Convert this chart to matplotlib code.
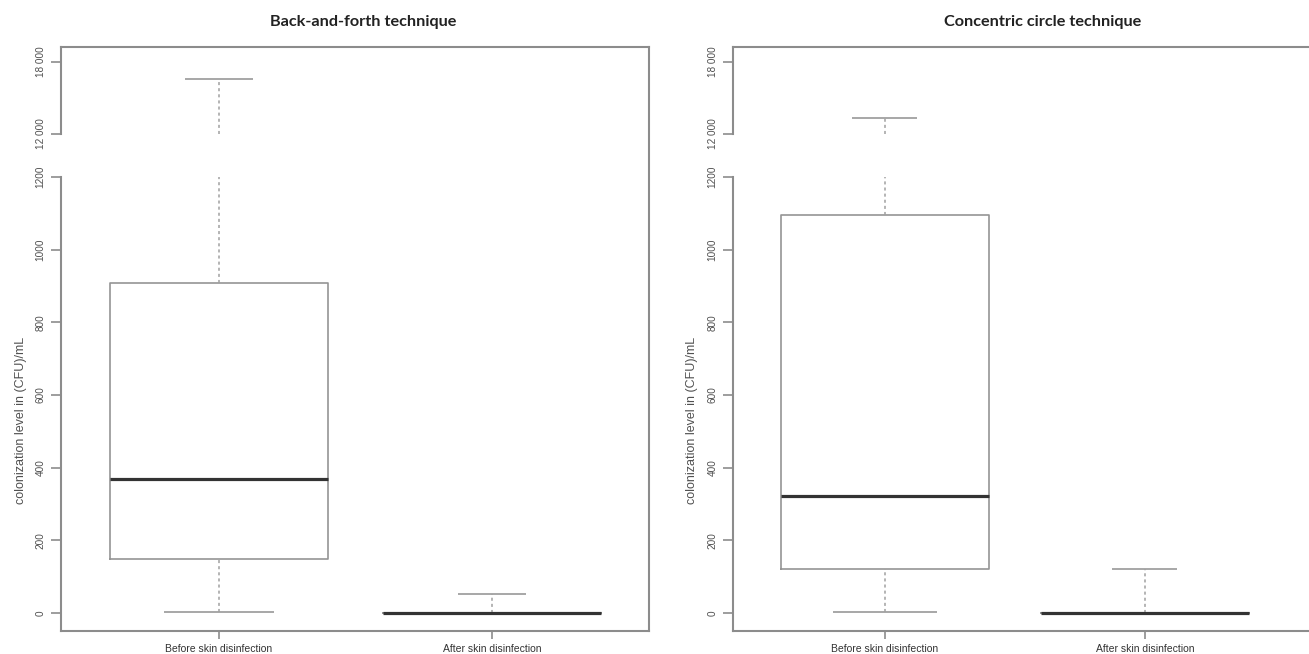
import numpy as np
import matplotlib
matplotlib.use("Agg")
import matplotlib.pyplot as plt

plt.rcParams['font.family'] = ['Liberation Sans', 'DejaVu Sans']

# ---- data (CFU/mL) ----
groups = ["Before skin disinfection", "After skin disinfection"]
titles = ["Back-and-forth technique", "Concentric circle technique"]

# back-and-forth technique: before / after
bf_whislo = [3, 0]
bf_q1 = [150, 0]
bf_med = [368, 0]
bf_q3 = [908, 0]
bf_whishi = [16600, 52]

# concentric circle technique: before / after
cc_whislo = [3, 0]
cc_q1 = [121, 0]
cc_med = [322, 0]
cc_q3 = [1095, 0]
cc_whishi = [13300, 120]

ytick_vals = [0, 200, 400, 600, 800, 1000, 1200, 12000, 18000]
ytick_labels = ["0", "200", "400", "600", "800", "1000", "1200", "12 000", "18 000"]

# broken axis: 0-1200 linear, 12000+ compressed
GAP_LO, GAP_HI = 1200, 12000
K_LOW = 436 / 1200.0
K_GAP = 43 / 10800.0
K_HIGH = 72 / 6000.0
F_LO = GAP_LO * K_LOW
F_HI = F_LO + 43


def fwd(v):
    v = np.asarray(v, dtype=float)
    return np.where(v <= GAP_LO, v * K_LOW,
                    np.where(v < GAP_HI, F_LO + (v - GAP_LO) * K_GAP,
                             F_HI + (v - GAP_HI) * K_HIGH))


def inv(f):
    f = np.asarray(f, dtype=float)
    return np.where(f <= F_LO, f / K_LOW,
                    np.where(f < F_HI, GAP_LO + (f - F_LO) / K_GAP,
                             GAP_HI + (f - F_HI) / K_HIGH))


frame_c = "#8c8c8c"
box_c = "#959595"
w_box = 0.8
w_cap_low = 0.4
w_cap_high = 0.25


def draw_panel(ax, whislo, q1, med, q3, whishi, xlim):
    ax.set_yscale('function', functions=(fwd, inv))
    ax.set_ylim(-49.5, 19250)
    ax.set_xlim(*xlim)
    for i in range(len(groups)):
        x = i + 1
        h = w_box / 2
        ax.plot([x - h, x + h, x + h, x - h, x - h],
                [q1[i], q1[i], q3[i], q3[i], q1[i]], color=box_c, lw=1.2)
        # whiskers
        ax.vlines(x, whislo[i], q1[i], color="#a0a0a0", lw=1.1, linestyles=(0, (2, 2)))
        ax.vlines(x, q3[i], min(whishi[i], GAP_LO), color="#a0a0a0", lw=1.1,
                  linestyles=(0, (2, 2)))
        if whishi[i] > GAP_HI:
            ax.vlines(x, GAP_HI, whishi[i], color="#a0a0a0", lw=1.1, linestyles=(0, (2, 2)))
        # caps
        ax.hlines(whislo[i], x - w_cap_low / 2, x + w_cap_low / 2, color="#a0a0a0", lw=1.3)
        ax.hlines(whishi[i], x - w_cap_high / 2, x + w_cap_high / 2, color="#a0a0a0", lw=1.3)
        # median
        ax.hlines(med[i], x - h, x + h, color="#333333", lw=2.3)

    for s in ['top', 'right', 'bottom']:
        ax.spines[s].set_color(frame_c)
        ax.spines[s].set_linewidth(1.5)
    ax.spines['left'].set_visible(False)
    tr = ax.get_yaxis_transform()
    ax.plot([0, 0], [-49.5, GAP_LO], transform=tr, clip_on=False, color=frame_c, lw=1.5)
    ax.plot([0, 0], [GAP_HI, 19250], transform=tr, clip_on=False, color=frame_c, lw=1.5)

    ax.set_yticks(ytick_vals)
    ax.set_yticklabels(ytick_labels)
    ax.tick_params(axis='y', direction='out', length=7, width=1.2, color=frame_c,
                   labelsize=7.2, labelcolor="#505050", pad=4)
    for lab in ax.get_yticklabels():
        lab.set_rotation(90)
        lab.set_va('center')
    ax.set_xticks([1, 2])
    ax.set_xticklabels(groups)
    ax.tick_params(axis='x', direction='out', length=6, width=1.2, color=frame_c,
                   labelsize=7.5, labelcolor="#333333", pad=3)
    ax.set_ylabel("colonization level in (CFU)/mL", fontsize=9, color="#505050")
    ax.yaxis.set_label_coords(-0.058, 0.36)


fig = plt.figure(figsize=(13.09, 6.54), dpi=100)
ax1 = fig.add_axes([61 / 1309, 23 / 654, 588 / 1309, 584 / 654])
ax2 = fig.add_axes([733 / 1309, 23 / 654, 578 / 1309, 584 / 654])

draw_panel(ax1, bf_whislo, bf_q1, bf_med, bf_q3, bf_whishi, (0.4212, 2.575))
draw_panel(ax2, cc_whislo, cc_q1, cc_med, cc_q3, cc_whishi, (0.4154, 2.6385))
ax2.spines['right'].set_visible(False)
ax2.yaxis.set_label_coords(-0.06, 0.36)

fig.text(363 / 1309, 1 - 22 / 654, titles[0], ha='center', va='center',
         fontsize=11.7, fontweight='bold', family=['Lato', 'DejaVu Sans'], color="#222222")
fig.text(1043 / 1309, 1 - 22 / 654, titles[1], ha='center', va='center',
         fontsize=11.7, fontweight='bold', family=['Lato', 'DejaVu Sans'], color="#222222")

fig.savefig("out.png", dpi=100, facecolor="white")
